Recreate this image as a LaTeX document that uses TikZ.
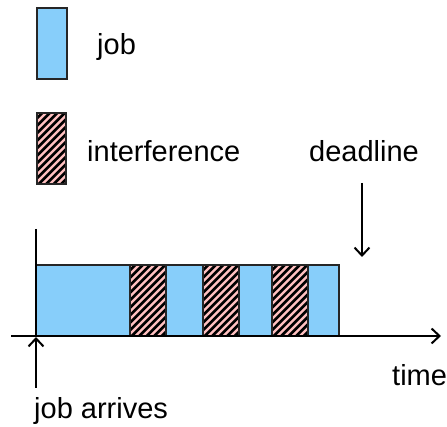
\documentclass[tikz,border=0pt]{standalone}
\usepackage{fontspec}
\setmainfont{Liberation Sans}
\usetikzlibrary{arrows.meta}

\definecolor{jobblue}{RGB}{135,206,250}
\definecolor{intpink}{RGB}{255,192,192}

\tikzset{
  jobbox/.style={fill=jobblue, draw=black!85, line width=1.4pt},
  intedge/.style={draw=black!85, line width=1.4pt},
  txt/.style={inner sep=0pt, anchor=base west, font=\fontsize{29}{34}\selectfont},
  axisline/.style={line width=2.6pt},
  barb/.style={-{Straight Barb[length=8pt,width=15pt,line width=2pt]}},
  pointer/.style={line width=2.2pt, barb},
}

% pink block from lower-left (x1,y1) to upper-right (x2,y2) with "/" stripes,
% each stripe a filled band 3.7pt wide (measured along x), repeating every 7.5pt
\newcommand\hatchrect[4]{%
  \fill[intpink] (#1,#2) rectangle (#3,#4);
  \begin{scope}
    \clip (#1,#2) rectangle (#3,#4);
    \foreach \k in {-11,...,6} {
      \pgfmathsetmacro\sx{#1+\k*7.5}
      \pgfmathsetmacro\h{#4-#2}
      \fill[black] (\sx,#2) -- ++(3.7,0) -- ++(\h,\h) -- ++(-3.7,0) -- cycle;
    }
  \end{scope}
  \draw[intedge] (#1,#2) rectangle (#3,#4);
}

\begin{document}
\begin{tikzpicture}[x=1pt,y=1pt]
  \useasboundingbox (0,0) rectangle (447,427);

  % legend
  \draw[jobbox] (37,348) rectangle (67,419);
  \node[txt] (jobtxt) at (97,372) {job};
  \hatchrect{37}{243}{66}{314}
  \node[txt] (inttxt) at (87,265) {interference};

  % execution bar
  \draw[jobbox] (36,91) rectangle (339,162);
  \hatchrect{130}{91}{166}{162}
  \hatchrect{203}{91}{239}{162}
  \hatchrect{272}{91}{308}{162}

  % axes
  \coordinate (xstart) at (11,91);
  \coordinate (xend) at (441,91);
  \coordinate (ytop) at (36,198);
  \coordinate (origin) at (36,91);
  \draw[axisline] (ytop) -- (origin);
  \draw[axisline, barb] (xstart) -- (xend);
  \node[txt] (timetxt) at (392,41) {time};

  % arrival marker
  \coordinate (arrbot) at (36,39);
  \coordinate (arrtip) at (36,90);
  \draw[pointer] (arrbot) -- (arrtip);
  \node[txt] (arrtxt) at (34,8) {job arrives};

  % deadline marker
  \node[txt] (dltxt) at (309,265) {deadline};
  \coordinate (dltop) at (362,244);
  \coordinate (dltip) at (362,170);
  \draw[pointer] (dltop) -- (dltip);
\end{tikzpicture}
\end{document}
